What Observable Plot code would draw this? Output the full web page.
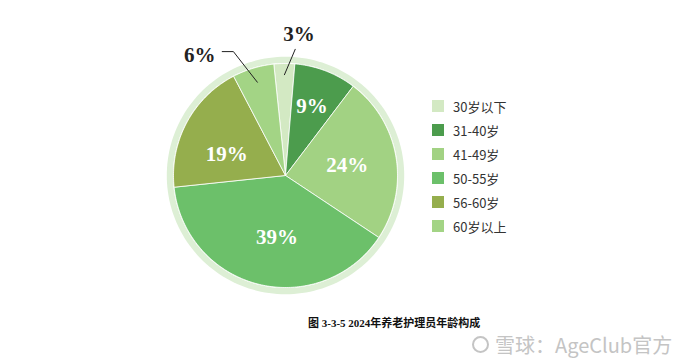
<!DOCTYPE html>
<html><head><meta charset="utf-8">
<script src="https://cdn.jsdelivr.net/npm/d3@7"></script>
<script src="https://cdn.jsdelivr.net/npm/@observablehq/plot@0.6"></script>
<style>
body{margin:0;background:#fff;}
#wrap{position:relative;width:693px;height:362px;overflow:hidden;}
#legend{position:absolute;left:432px;top:94px;font-family:"Noto Sans CJK SC","Noto Sans",sans-serif;font-size:13px;color:#333;}
#legend .row{display:flex;align-items:center;height:24px;}
#legend .sw{width:12px;height:12px;margin-right:9px;}
#caption{position:absolute;left:308px;top:314px;font-family:"Liberation Serif","Noto Sans CJK SC",serif;font-weight:bold;font-size:11px;color:#111;white-space:nowrap;}
#wm{position:absolute;left:472px;top:330px;font-family:"Noto Sans CJK SC",sans-serif;font-size:20px;color:#c4c4c4;white-space:nowrap;display:flex;align-items:center;}
#wm .ic{width:17px;height:17px;border:2px solid #c4c4c4;border-radius:50%;margin-right:6px;box-sizing:border-box;}
</style></head>
<body><div id="wrap"><div id="chart"></div><div id="legend"></div>
<div id="caption">图 3-3-5 2024年养老护理员年龄构成</div>
<div id="wm"><span class="ic"></span>雪球：AgeClub官方</div></div>
<script>
const categories = ["30岁以下","31-40岁","41-49岁","50-55岁","56-60岁","60岁以上"];
const shares = [3, 9, 24, 39, 19, 6];
const colors = ["#d3e9c3","#4c9c4d","#a2d283","#6cc06a","#95ae4d","#a3d485"];
const ringColor = "#ddefd5";
const startDeg = -6;

const deg = Math.PI/180;
const arcs = d3.pie().sort(null).startAngle(startDeg*deg).endAngle((startDeg+360)*deg)(shares);
const polar = (a, r) => ({x: r*Math.sin(a), y: r*Math.cos(a)});

// slice polygons
const slicePts = [];
arcs.forEach((a, i) => {
  slicePts.push({cat: categories[i], ...polar(0,0)});
  const n = Math.max(2, Math.ceil((a.endAngle - a.startAngle)/deg));
  for (let k = 0; k <= n; k++) {
    const t = a.startAngle + (a.endAngle - a.startAngle)*k/n;
    slicePts.push({cat: categories[i], ...polar(t, 1)});
  }
  slicePts.push({cat: categories[i], ...polar(0,0)});
});
const ringPts = d3.range(0, 361, 2).map(d => polar(d*deg, 1.06));

// labels
const inside = [], outside = [], leaders = [];
arcs.forEach((a, i) => {
  const mid = (a.startAngle + a.endAngle)/2;
  const txt = shares[i] + "%";
  if (shares[i] >= 9) {
    const r = shares[i] < 10 ? 0.66 : 0.56;
    const shift = shares[i] === 19 ? -8*deg : (shares[i] === 39 ? -6*deg : 0);
    inside.push({txt, ...polar(mid + shift, r)});
  }
});
// 3% leader (first slice)
{
  const a = arcs[0], mid = (a.startAngle + a.endAngle)/2;
  const p1 = polar(mid, 0.9), p2 = polar(mid + 5*deg, 1.13);
  leaders.push({g: 0, ...p1}, {g: 0, ...p2});
  outside.push({txt: shares[0] + "%", anchor: "middle", ...polar(mid + 6*deg, 1.27)});
}
// 6% leader (last slice)
{
  const a = arcs[5], mid = (a.startAngle + a.endAngle)/2;
  const p1 = polar(mid, 0.87), p2 = polar(mid - 6*deg, 1.2);
  const p3 = {x: p2.x - 0.1, y: p2.y};
  leaders.push({g: 1, ...p1}, {g: 1, ...p2}, {g: 1, ...p3});
  outside.push({txt: shares[5] + "%", x: p3.x - 0.2, y: p3.y - 0.035, anchor: "end"});
}

const chart = Plot.plot({
  width: 693, height: 305, margin: 0,
  x: {domain: [-1, 1], range: [173, 397], axis: null},
  y: {domain: [-1, 1], range: [287, 63], axis: null},
  color: {domain: categories, range: colors},
  style: {overflow: "visible", background: "transparent"},
  marks: [
    Plot.line(ringPts, {x: "x", y: "y", fill: ringColor, stroke: "none"}),
    Plot.line(ringPts.map(p => ({x: p.x/1.06*1.005, y: p.y/1.06*1.005})), {x: "x", y: "y", fill: "white", stroke: "none"}),
    Plot.line(slicePts, {x: "x", y: "y", z: "cat", fill: "cat", stroke: "white", strokeWidth: 0.8, strokeLinejoin: "round"}),
    Plot.line(leaders, {x: "x", y: "y", z: "g", stroke: "#222", strokeWidth: 1}),
    Plot.text(inside, {x: "x", y: "y", text: "txt", fill: "white", fontSize: 21, fontWeight: "bold", fontFamily: "Liberation Serif, serif"}),
    Plot.text(outside, {x: "x", y: "y", text: "txt", textAnchor: "anchor", fill: "#222", fontSize: 21, fontWeight: "bold", fontFamily: "Liberation Serif, serif"})
  ]
});
document.getElementById("chart").appendChild(chart);

const lg = d3.select("#legend");
categories.forEach((c, i) => {
  const row = lg.append("div").attr("class", "row");
  row.append("div").attr("class", "sw").style("background", colors[i]);
  row.append("span").text(c);
});
</script></body></html>
